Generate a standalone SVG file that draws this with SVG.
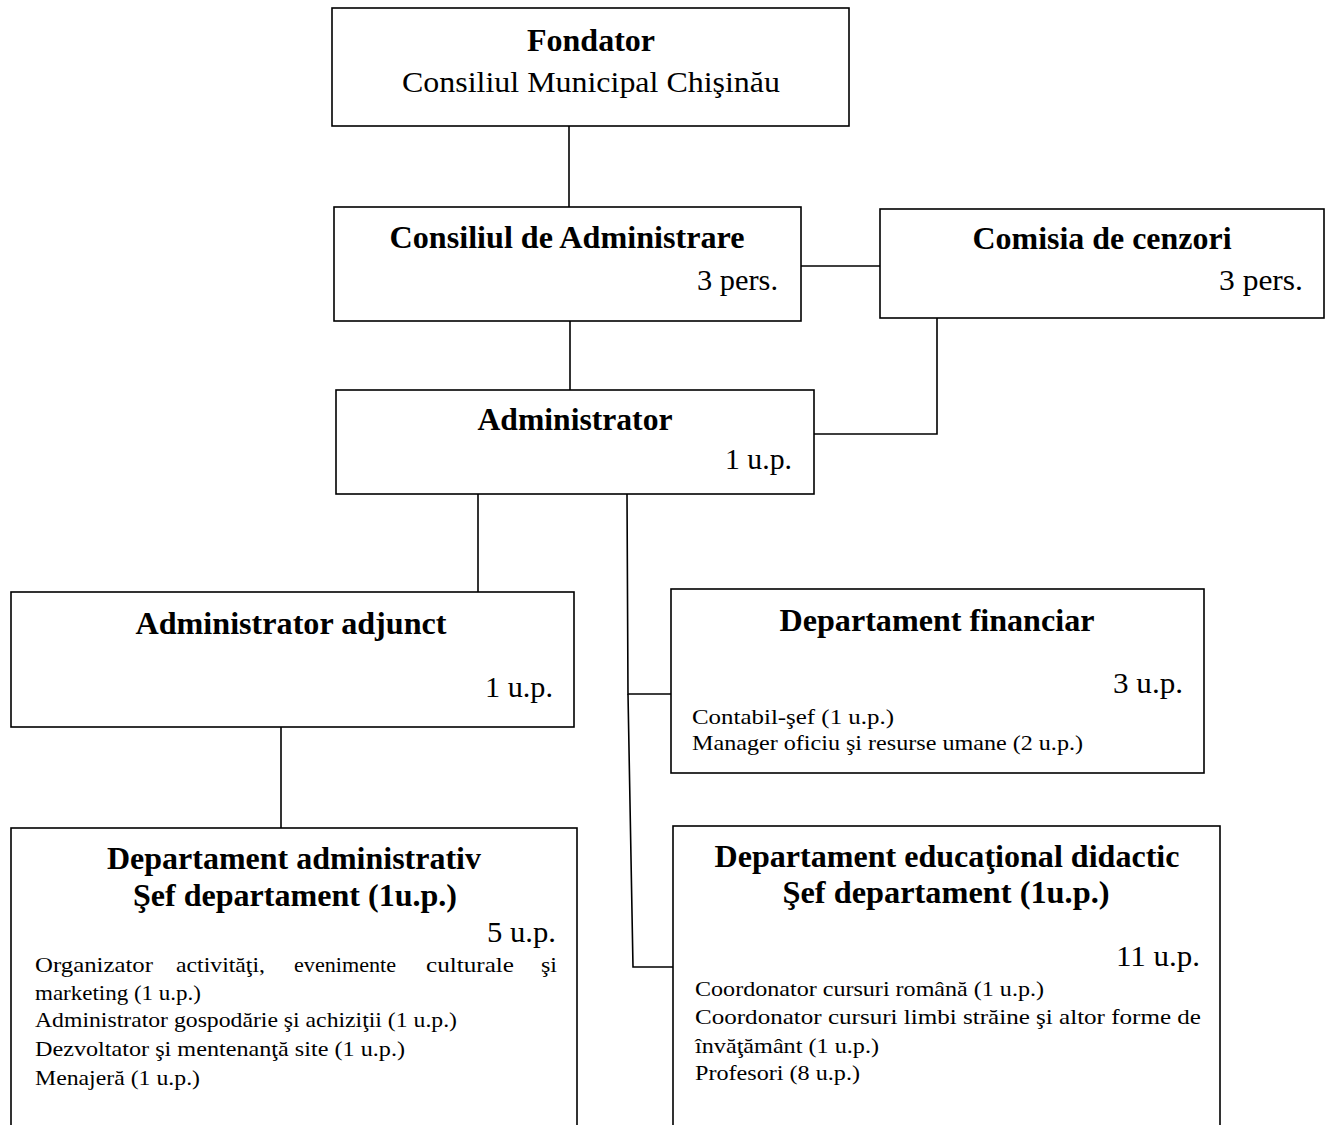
<svg xmlns="http://www.w3.org/2000/svg" width="1331" height="1125" viewBox="0 0 1331 1125">
<style>
rect.box{fill:#fff;stroke:#000;stroke-width:1.6}
.c line,.c polyline{stroke:#000;stroke-width:1.6;fill:none}
text{font-family:"Liberation Serif","Times New Roman",serif;fill:#000}
.t{font-size:31px;font-weight:bold;text-anchor:middle}
.r{font-size:30px;text-anchor:end}
.m{font-size:30px;text-anchor:middle}
.s{font-size:21px}
</style>
<rect width="1331" height="1125" fill="#fff"/>
<g class="c" id="connectors">
<line x1="569" y1="126" x2="569" y2="207"/>
<line x1="801" y1="266" x2="880" y2="266"/>
<line x1="570" y1="321" x2="570" y2="390"/>
<polyline points="937,318 937,434 814,434"/>
<line x1="478" y1="494" x2="478" y2="592"/>
<polyline points="627,494 628,694 671,694"/>
<polyline points="628,694 633,967 673,967"/>
<line x1="281" y1="727" x2="281" y2="828"/>
</g>
<g id="fondator">
<rect class="box" x="332" y="8" width="517" height="118"/>
<text class="t" x="591" y="51" textLength="128" lengthAdjust="spacingAndGlyphs">Fondator</text>
<text class="m" x="591" y="92" textLength="378" lengthAdjust="spacingAndGlyphs">Consiliul Municipal Chişinău</text>
</g>
<g id="consiliul">
<rect class="box" x="334" y="207" width="467" height="114"/>
<text class="t" x="567" y="248" textLength="355" lengthAdjust="spacingAndGlyphs">Consiliul de Administrare</text>
<text class="r" x="778" y="290" textLength="81" lengthAdjust="spacingAndGlyphs">3 pers.</text>
</g>
<g id="comisia">
<rect class="box" x="880" y="209" width="444" height="109"/>
<text class="t" x="1102" y="249" textLength="259" lengthAdjust="spacingAndGlyphs">Comisia de cenzori</text>
<text class="r" x="1303" y="290" textLength="84" lengthAdjust="spacingAndGlyphs">3 pers.</text>
</g>
<g id="administrator">
<rect class="box" x="336" y="390" width="478" height="104"/>
<text class="t" x="575" y="430" textLength="195" lengthAdjust="spacingAndGlyphs">Administrator</text>
<text class="r" x="792" y="469" textLength="67" lengthAdjust="spacingAndGlyphs">1 u.p.</text>
</g>
<g id="adjunct">
<rect class="box" x="11" y="592" width="563" height="135"/>
<text class="t" x="291" y="634" textLength="311" lengthAdjust="spacingAndGlyphs">Administrator adjunct</text>
<text class="r" x="553" y="697" textLength="68" lengthAdjust="spacingAndGlyphs">1 u.p.</text>
</g>
<g id="financiar">
<rect class="box" x="671" y="589" width="533" height="184"/>
<text class="t" x="937" y="631" textLength="315" lengthAdjust="spacingAndGlyphs">Departament financiar</text>
<text class="r" x="1183" y="693" textLength="70" lengthAdjust="spacingAndGlyphs">3 u.p.</text>
<text class="s" x="692" y="724" textLength="202" lengthAdjust="spacingAndGlyphs">Contabil-şef  (1 u.p.)</text>
<text class="s" x="692" y="750" textLength="391" lengthAdjust="spacingAndGlyphs">Manager oficiu şi resurse umane (2 u.p.)</text>
</g>
<g id="administrativ">
<rect class="box" x="11" y="828" width="566" height="310"/>
<text class="t" x="294" y="869" textLength="374" lengthAdjust="spacingAndGlyphs">Departament administrativ</text>
<text class="t" x="295" y="906" textLength="324" lengthAdjust="spacingAndGlyphs">Şef departament (1u.p.)</text>
<text class="r" x="556" y="942" textLength="69" lengthAdjust="spacingAndGlyphs">5 u.p.</text>
<text class="s" x="35" y="972" textLength="118" lengthAdjust="spacingAndGlyphs">Organizator</text>
<text class="s" x="176" y="972" textLength="89" lengthAdjust="spacingAndGlyphs">activităţi,</text>
<text class="s" x="294" y="972" textLength="102" lengthAdjust="spacingAndGlyphs">evenimente</text>
<text class="s" x="426" y="972" textLength="88" lengthAdjust="spacingAndGlyphs">culturale</text>
<text class="s" x="541" y="972" textLength="16" lengthAdjust="spacingAndGlyphs">şi</text>
<text class="s" x="35" y="1000" textLength="166" lengthAdjust="spacingAndGlyphs">marketing (1 u.p.)</text>
<text class="s" x="35" y="1027" textLength="422" lengthAdjust="spacingAndGlyphs">Administrator gospodărie şi achiziţii (1 u.p.)</text>
<text class="s" x="35" y="1056" textLength="370" lengthAdjust="spacingAndGlyphs">Dezvoltator şi mentenanţă site (1 u.p.)</text>
<text class="s" x="35" y="1085" textLength="165" lengthAdjust="spacingAndGlyphs">Menajeră (1 u.p.)</text>
</g>
<g id="educational">
<rect class="box" x="673" y="826" width="547" height="312"/>
<text class="t" x="947" y="867" textLength="465" lengthAdjust="spacingAndGlyphs">Departament educaţional didactic</text>
<text class="t" x="946" y="903" textLength="327" lengthAdjust="spacingAndGlyphs">Şef departament (1u.p.)</text>
<text class="r" x="1200" y="966" textLength="84" lengthAdjust="spacingAndGlyphs">11 u.p.</text>
<text class="s" x="695" y="996" textLength="349" lengthAdjust="spacingAndGlyphs">Coordonator cursuri română (1 u.p.)</text>
<text class="s" x="695" y="1024" textLength="506" lengthAdjust="spacingAndGlyphs">Coordonator cursuri limbi străine şi altor forme de</text>
<text class="s" x="695" y="1053" textLength="184" lengthAdjust="spacingAndGlyphs">învăţământ (1 u.p.)</text>
<text class="s" x="695" y="1080" textLength="165" lengthAdjust="spacingAndGlyphs">Profesori (8 u.p.)</text>
</g>
</svg>
